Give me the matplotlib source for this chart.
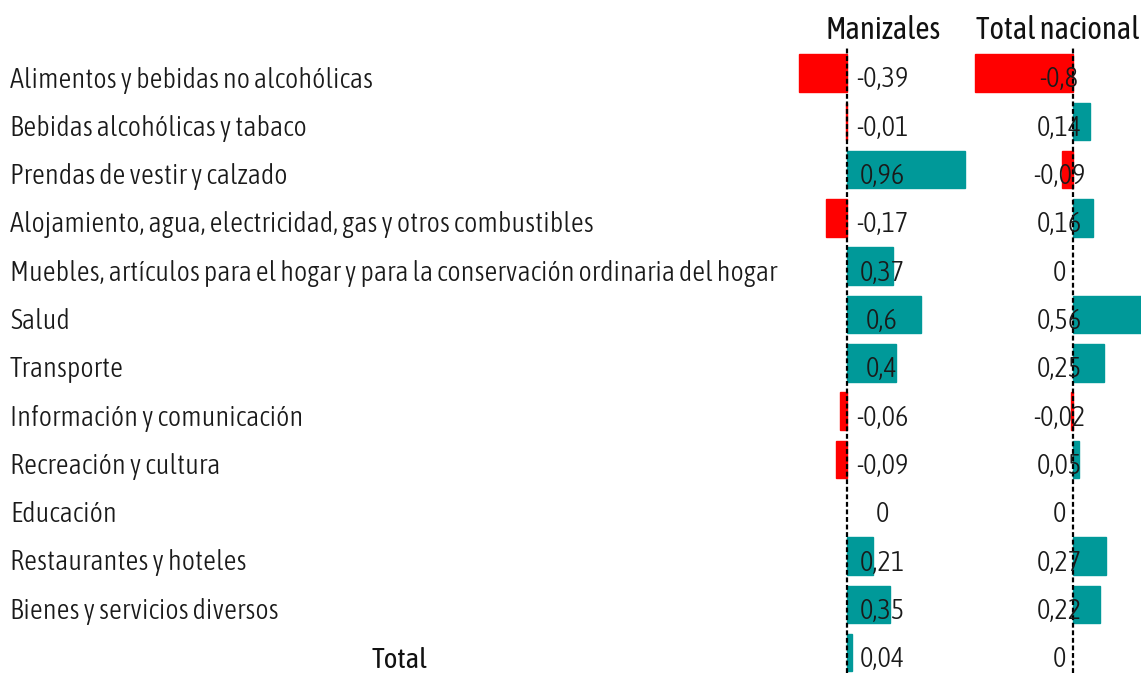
import matplotlib
matplotlib.use("Agg")
import matplotlib.pyplot as plt
from matplotlib import font_manager as fm

categories = [
    "Alimentos y bebidas no alcohólicas",
    "Bebidas alcohólicas y tabaco",
    "Prendas de vestir y calzado",
    "Alojamiento, agua, electricidad, gas y otros combustibles",
    "Muebles, artículos para el hogar y para la conservación ordinaria del hogar",
    "Salud",
    "Transporte",
    "Información y comunicación",
    "Recreación y cultura",
    "Educación",
    "Restaurantes y hoteles",
    "Bienes y servicios diversos",
    "Total",
]
manizales = [-0.39, -0.01, 0.96, -0.17, 0.37, 0.6, 0.4, -0.06, -0.09, 0, 0.21, 0.35, 0.04]
nacional = [-0.8, 0.14, -0.09, 0.16, 0, 0.56, 0.25, -0.02, 0.05, 0, 0.27, 0.22, 0]
labels_man = ["-0,39", "-0,01", "0,96", "-0,17", "0,37", "0,6", "0,4", "-0,06", "-0,09", "0", "0,21", "0,35", "0,04"]
labels_nac = ["-0,8", "0,14", "-0,09", "0,16", "0", "0,56", "0,25", "-0,02", "0,05", "0", "0,27", "0,22", "0"]
headers = ["Manizales", "Total nacional"]

RED = "#FF0000"
TEAL = "#009999"

avail = {f.name for f in fm.fontManager.ttflist}
fam = "DejaVu Sans"
for cand in ["Asap Condensed", "Encode Sans Condensed", "Barlow Semi Condensed", "Archivo Narrow"]:
    if cand in avail:
        fam = cand
        break
WT = 300
HWT = 400

W, H = 1141, 673
fig = plt.figure(figsize=(W / 100, H / 100), dpi=100)
renderer = fig.canvas.get_renderer()


def fit_size(s, target_px, weight, base=20):
    t = fig.text(0, 0, s, fontsize=base, family=fam, weight=weight)
    w = t.get_window_extent(renderer).width
    t.remove()
    return base * target_px / w


FS = fit_size(categories[0], 363, WT)
HFS = fit_size(headers[0], 115, HWT)
TFS = fit_size("Total", 56, HWT)

n = len(categories)
row0, step = 73.0, 48.3
base_off = 14.5
top_px, bot_px = 48, 673
ytop = -(row0 - top_px) / step
ybot = (n - 1) + (bot_px - (row0 + step * (n - 1))) / step
scale = 123.0  # px per unit


def make_ax(x0, x1, zero):
    ax = fig.add_axes([x0 / W, 1 - bot_px / H, (x1 - x0) / W, (bot_px - top_px) / H])
    ax.set_xlim(-(zero - x0) / scale, (x1 - zero) / scale)
    ax.set_ylim(ybot, ytop)
    ax.axis("off")
    ax.patch.set_alpha(0)
    return ax


ax1 = make_ax(700, 1000, 847)
ax2 = make_ax(960, 1141, 1073)

ys = list(range(n))
for ax, vals, labs, cx in [(ax1, manizales, labels_man, 882), (ax2, nacional, labels_nac, 1059)]:
    cols = [RED if v < 0 else TEAL for v in vals]
    bars = ax.barh(ys, vals, height=0.777, color=cols, zorder=1)
    for b, v in zip(bars, vals):
        if v != 0:
            b.set_edgecolor(b.get_facecolor())
            b.set_linewidth(1.0)
    ax.axvline(0, color="black", lw=1.6, ls=(0, (2.2, 1.2)), zorder=3)
    for y, t in zip(ys, labs):
        ax.text(cx / W, 1 - (row0 + step * y + base_off) / H, t, transform=fig.transFigure,
                ha="center", va="baseline", fontsize=FS, family=fam, weight=WT, color="#1a1a1a", zorder=5)

# category labels
for i, c in enumerate(categories):
    ypx = row0 + step * i + base_off
    if c == "Total":
        fig.text(400 / W, 1 - (ypx + 1) / H, c, ha="center", va="baseline", fontsize=TFS, family=fam, weight=HWT, color="#111111")
    else:
        fig.text(10 / W, 1 - ypx / H, c, ha="left", va="baseline", fontsize=FS, family=fam, weight=WT, color="#1a1a1a")

fig.text(883 / W, 1 - 39 / H, headers[0], ha="center", va="baseline", fontsize=HFS, family=fam, weight=HWT, color="#111111")
fig.text(1058 / W, 1 - 39 / H, headers[1], ha="center", va="baseline", fontsize=HFS, family=fam, weight=HWT, color="#111111")

fig.savefig("out.png", dpi=100, facecolor="white")
